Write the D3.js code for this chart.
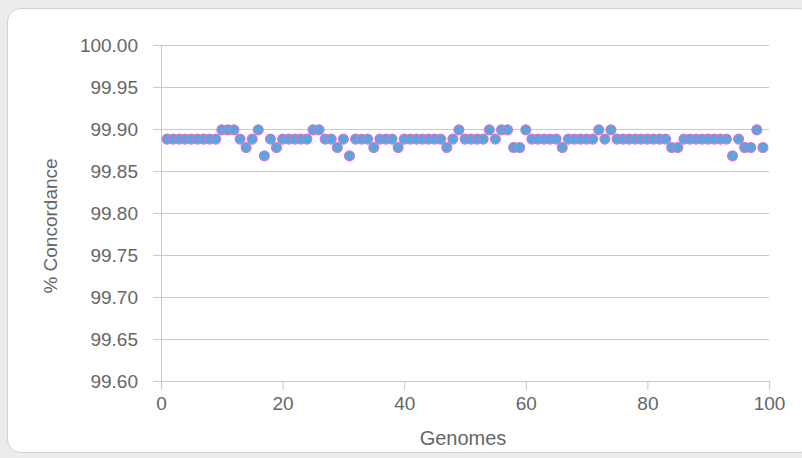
<!DOCTYPE html>
<html>
<head>
<meta charset="utf-8">
<script src="https://cdn.jsdelivr.net/npm/d3@7"></script>
<style>
  html, body { margin: 0; padding: 0; background: #ececec; }
  svg { display: block; }
  text { font-family: "Liberation Sans", Arial, sans-serif; fill: #666; }
</style>
</head>
<body>
<script>
var genomes = [
  1, 2, 3, 4, 5, 6, 7, 8, 9, 10, 11, 12, 13, 14, 15, 16, 17, 18, 19, 20,
  21, 22, 23, 24, 25, 26, 27, 28, 29, 30, 31, 32, 33, 34, 35, 36, 37, 38, 39, 40,
  41, 42, 43, 44, 45, 46, 47, 48, 49, 50, 51, 52, 53, 54, 55, 56, 57, 58, 59, 60,
  61, 62, 63, 64, 65, 66, 67, 68, 69, 70, 71, 72, 73, 74, 75, 76, 77, 78, 79, 80,
  81, 82, 83, 84, 85, 86, 87, 88, 89, 90, 91, 92, 93, 94, 95, 96, 97, 98, 99
];

var concordance = [
  99.888, 99.888, 99.888, 99.888, 99.888, 99.888, 99.888, 99.888, 99.888, 99.899,
  99.899, 99.899, 99.888, 99.878, 99.888, 99.899, 99.868, 99.888, 99.878, 99.888,
  99.888, 99.888, 99.888, 99.888, 99.899, 99.899, 99.888, 99.888, 99.878, 99.888,
  99.868, 99.888, 99.888, 99.888, 99.878, 99.888, 99.888, 99.888, 99.878, 99.888,
  99.888, 99.888, 99.888, 99.888, 99.888, 99.888, 99.878, 99.888, 99.899, 99.888,
  99.888, 99.888, 99.888, 99.899, 99.888, 99.899, 99.899, 99.878, 99.878, 99.899,
  99.888, 99.888, 99.888, 99.888, 99.888, 99.878, 99.888, 99.888, 99.888, 99.888,
  99.888, 99.899, 99.888, 99.899, 99.888, 99.888, 99.888, 99.888, 99.888, 99.888,
  99.888, 99.888, 99.888, 99.878, 99.878, 99.888, 99.888, 99.888, 99.888, 99.888,
  99.888, 99.888, 99.888, 99.868, 99.888, 99.878, 99.878, 99.899, 99.878
];

var xTicks = [0, 20, 40, 60, 80, 100],
  yTicks = [99.60, 99.65, 99.70, 99.75, 99.80, 99.85, 99.90, 99.95, 100.00];

var width = 802,
  height = 458,
  plot = { left: 161, right: 769, top: 45, bottom: 381 },
  svg = d3.select('body').append('svg').attr('width', width).attr('height', height),
  x = d3.scaleLinear().domain([0, 100]).range([plot.left, plot.right]),
  y = d3.scaleLinear().domain([99.6, 100]).range([plot.bottom, plot.top]),
  gridColor = '#c9c9c9',
  points = genomes.map(function(g, i) {
    return { genome: g, value: concordance[i] };
  });

// card behind the chart
svg.append('rect').attr('x', 7.5).attr('y', 8.5).attr('width', 805).attr('height', 444)
  .attr('rx', 13).attr('fill', '#fff').attr('stroke', '#d2d2d2');

// y axis: grid lines that run left past the axis as tick marks
var yAxis = svg.append('g')
  .attr('transform', 'translate(' + plot.left + ',0)')
  .call(d3.axisLeft(y).tickValues(yTicks).tickFormat(d3.format('.2f'))
    .tickSizeInner(-(plot.right - plot.left)).tickSizeOuter(0).tickPadding(23));
yAxis.select('.domain').remove();
yAxis.selectAll('.tick line').attr('stroke', gridColor).attr('x1', -8);
yAxis.selectAll('.tick text').style('font-size', '19px').style('font-family', null).attr('fill', '#666');

// y axis line
svg.append('line').attr('x1', plot.left + 0.5).attr('x2', plot.left + 0.5)
  .attr('y1', plot.top).attr('y2', plot.bottom + 9).attr('stroke', gridColor);

// x axis
var xAxis = svg.append('g')
  .attr('transform', 'translate(0,' + plot.bottom + ')')
  .call(d3.axisBottom(x).tickValues(xTicks).tickSizeInner(9).tickSizeOuter(0).tickPadding(7));
xAxis.select('.domain').remove();
xAxis.selectAll('.tick line').attr('stroke', gridColor);
xAxis.selectAll('.tick text').style('font-size', '19px').style('font-family', null).attr('fill', '#666');

// axis titles
svg.append('text').attr('x', (plot.left + plot.right) / 2 - 2).attr('y', 445)
  .attr('text-anchor', 'middle').style('font-size', '20px').text('Genomes');
svg.append('text').attr('transform', 'translate(57,226) rotate(-90)')
  .attr('text-anchor', 'middle').style('font-size', '19px').text('% Concordance');

// points
svg.append('g').selectAll('circle').data(points).enter().append('circle')
  .attr('cx', function(d) { return x(d.genome); })
  .attr('cy', function(d) { return y(d.value); })
  .attr('r', 5)
  .attr('fill', '#5aa5dd')
  .attr('stroke', '#d176d2')
  .attr('stroke-width', 1.1);
</script>
</body>
</html>
